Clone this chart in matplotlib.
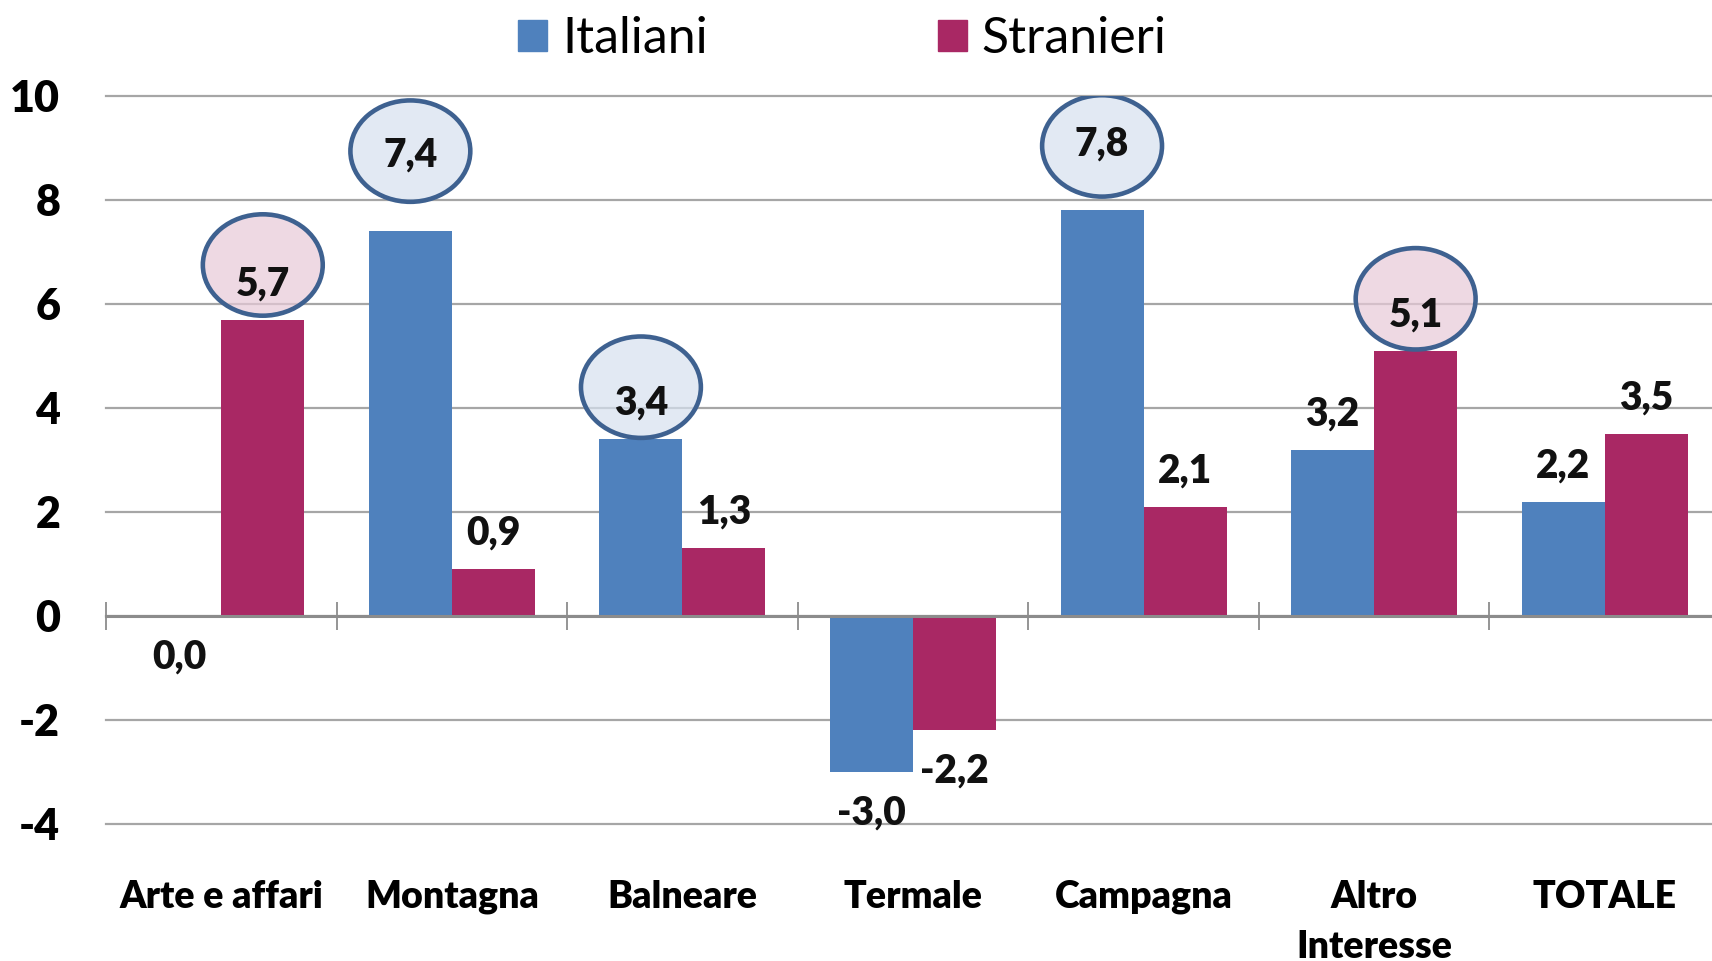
import numpy as np
import matplotlib.pyplot as plt
from matplotlib.patches import Ellipse, Patch

categories = ["Arte e affari", "Montagna", "Balneare", "Termale", "Campagna", "Altro\nInteresse", "TOTALE"]
italiani = [0.0, 7.4, 3.4, -3.0, 7.8, 3.2, 2.2]
stranieri = [5.7, 0.9, 1.3, -2.2, 2.1, 5.1, 3.5]
series_names = ["Italiani", "Stranieri"]
y_ticks = [-4, -2, 0, 2, 4, 6, 8, 10]

# labels moved up by hand in the original (series, index) -> extra lift
label_lift = {(0, 1): 0.78, (0, 4): 0.58}
# circled values (series, index) -> ellipse centre above the bar value
circled = {(1, 0): 1.05, (0, 1): 1.54, (0, 2): 1.0, (0, 4): 1.24, (1, 5): 1.0}

blue = "#4F81BD"
red = "#A92864"
fill = ["#D6E1EF", "#E8CAD8"]
edge = "#3E6190"

plt.rcParams['font.family'] = ['Lato', 'DejaVu Sans']

fig = plt.figure(figsize=(17.12, 9.61), dpi=100)
ax = fig.add_axes([106 / 1712, 1 - 824 / 961, (1712 + 8 - 106) / 1712, (824 - 96) / 961])

x = np.arange(len(categories))
w = 0.36
data = [italiani, stranieri]
colors = [blue, red]
for s in range(2):
    xs = x + (s - 0.5) * w
    ax.bar(xs, data[s], width=w, color=colors[s], zorder=3)
    for i, v in enumerate(data[s]):
        if v > 0:
            ly = v + 0.69 + label_lift.get((s, i), 0)
        else:
            ly = v - 0.79
        if (s, i) in circled:
            e = Ellipse((xs[i], v + circled[(s, i)]), 0.52, 1.95, facecolor=fill[s],
                        alpha=0.7, edgecolor="none", zorder=4)
            ax.add_patch(e)
            e2 = Ellipse((xs[i], v + circled[(s, i)]), 0.52, 1.95, facecolor="none",
                         edgecolor=edge, lw=3.3, zorder=4)
            ax.add_patch(e2)
        ax.text(xs[i], ly, f"{v:.1f}".replace(".", ","), ha="center", va="center",
                fontsize=28, fontweight="heavy", color="#111111", zorder=5)

ax.set_xlim(-0.5, len(categories) - 0.5)
ax.set_ylim(-4, 10)
ax.set_yticks(y_ticks)
ax.set_yticklabels([str(t) for t in y_ticks], fontsize=31, fontweight="heavy")
ax.tick_params(axis="y", length=0, pad=33)
for t in ax.get_yticklabels():
    t.set_ha("right")

ax.yaxis.grid(True, color="#A6A6A6", lw=1.6, zorder=0)
for gl in ax.get_ygridlines():
    gl.set_clip_on(False)
ax.set_axisbelow(True)

for sp in ["top", "right", "left"]:
    ax.spines[sp].set_visible(False)
ax.spines["bottom"].set_position(("data", 0))
ax.spines["bottom"].set_color("#8C8C8C")
ax.spines["bottom"].set_linewidth(2.2)
ax.spines["bottom"].set_zorder(3.5)
ax.set_xticks(x)
ax.set_xticklabels([])
ax.tick_params(axis="x", which="major", length=0)
ax.set_xticks(np.arange(len(categories)) - 0.5, minor=True)
ax.tick_params(axis="x", which="minor", direction="inout", length=20, width=1.3, color="#8C8C8C")

sec = ax.secondary_xaxis("bottom")
sec.set_xticks(x)
sec.set_xticklabels(categories, fontsize=27, fontweight="heavy", linespacing=1.6)
sec.tick_params(length=0, pad=40)
sec.spines["bottom"].set_visible(False)

handles = [Patch(color=blue), Patch(color=red)]
fig.legend(handles, series_names, loc="upper center", bbox_to_anchor=(0.492, 1.03), ncol=2,
           frameon=False, fontsize=36, handlelength=0.58, handleheight=0.58,
           handletextpad=0.3, columnspacing=4.6)

fig.savefig("out.png", dpi=100)
